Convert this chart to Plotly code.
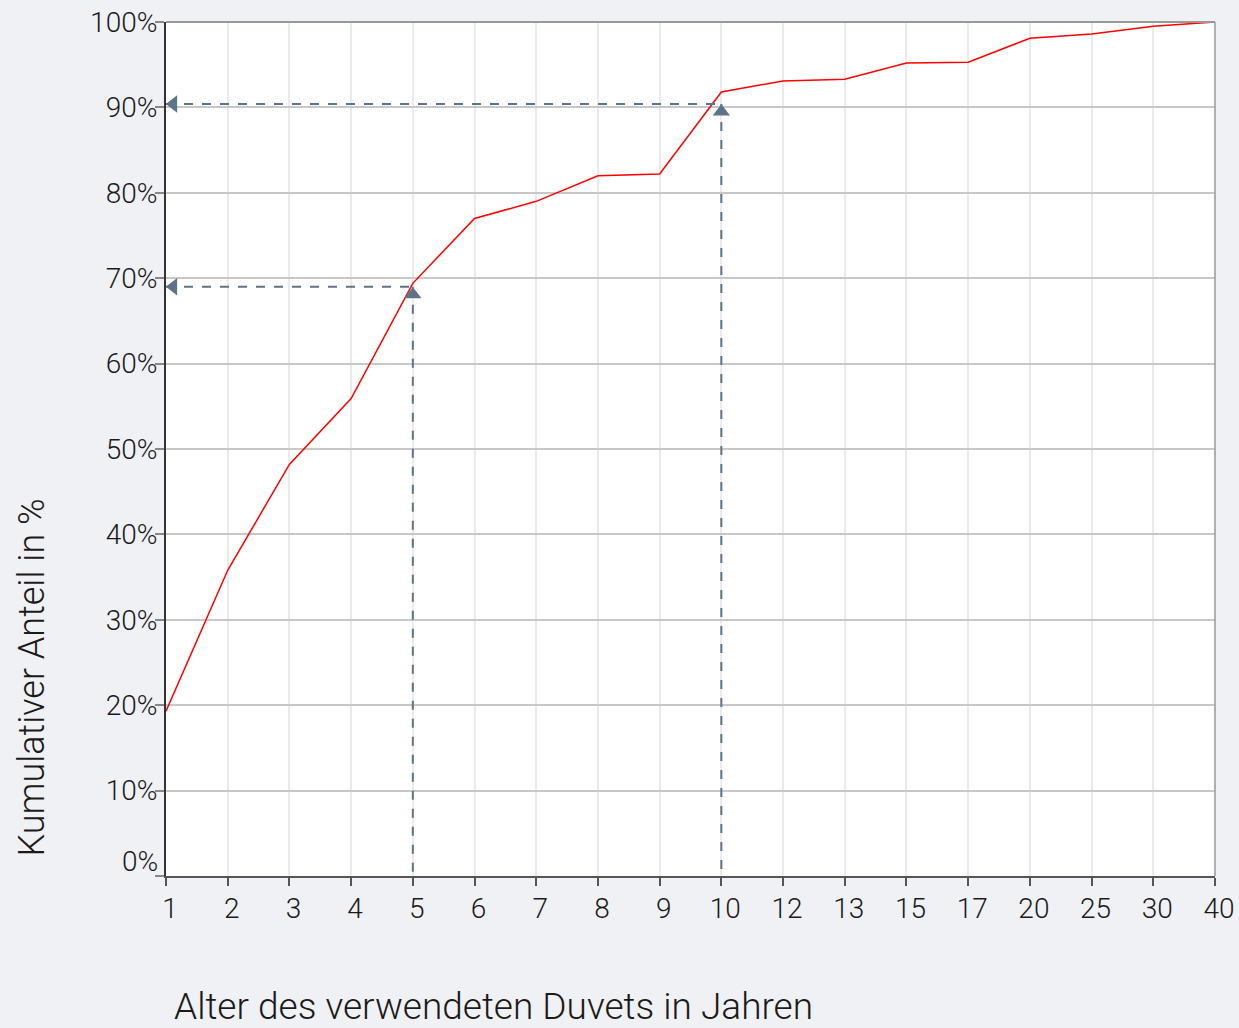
import plotly.graph_objects as go

# Data
age_labels = ["1", "2", "3", "4", "5", "6", "7", "8", "9", "10", "12", "13", "15", "17", "20", "25", "30", "40"]
cum_share = [19.3, 35.8, 48.2, 55.9, 69.4, 77.0, 79.0, 82.0, 82.2, 91.8, 93.1, 93.3, 95.2, 95.3, 98.1, 98.6, 99.5, 100.0]
y_ticks = [0, 10, 20, 30, 40, 50, 60, 70, 80, 90, 100]
y_ticklabels = ["", "10%", "20%", "30%", "40%", "50%", "60%", "70%", "80%", "90%", "100%"]
marker_ages = ["5", "10"]
marker_levels = [69.0, 90.4]

FONT = "Roboto, sans-serif"
TXT = "#1a1a1a"
DASH_COLOR = "#5d7386"

xs = list(range(len(age_labels)))

fig = go.Figure()
fig.add_trace(go.Scatter(x=xs, y=cum_share, mode="lines",
                         line=dict(color="#ff0000", width=1.5),
                         cliponaxis=False, showlegend=False, hoverinfo="skip"))

for age, lvl in zip(marker_ages, marker_levels):
    xi = age_labels.index(age)
    fig.add_shape(type="line", x0=0, x1=xi, y0=lvl, y1=lvl, xref="x", yref="y",
                  line=dict(color=DASH_COLOR, width=2, dash="dash"))
    fig.add_shape(type="line", x0=xi, x1=xi, y0=lvl, y1=0, xref="x", yref="y",
                  line=dict(color=DASH_COLOR, width=2, dash="dash"))
    fig.add_trace(go.Scatter(x=[0.12], y=[lvl], mode="markers",
                             marker=dict(symbol="triangle-left", size=15, color=DASH_COLOR),
                             cliponaxis=False, showlegend=False, hoverinfo="skip"))
    fig.add_trace(go.Scatter(x=[xi], y=[lvl - 0.9], mode="markers",
                             marker=dict(symbol="triangle-up", size=15, color=DASH_COLOR),
                             cliponaxis=False, showlegend=False, hoverinfo="skip"))

# top and right border
fig.add_shape(type="line", xref="paper", yref="paper", x0=0, x1=1, y0=1, y1=1,
              line=dict(color="#999999", width=2))
fig.add_shape(type="line", xref="paper", yref="paper", x0=1, x1=1, y0=0, y1=1,
              line=dict(color="#999999", width=1.5))

fig.add_annotation(text="0%", xref="paper", yref="y", x=-0.006, y=1.7,
                   xanchor="right", yanchor="middle", showarrow=False,
                   font=dict(family=FONT, size=28, color=TXT, weight=300))
fig.add_annotation(text="Kumulativer Anteil in %", xref="paper", yref="paper",
                   x=-0.128, y=0.232, textangle=-90, xanchor="center", yanchor="middle",
                   showarrow=False, font=dict(family=FONT, size=36, color=TXT, weight=300))
fig.add_annotation(text="Alter des verwendeten Duvets in Jahren", xref="paper", yref="paper",
                   x=0.006, y=-0.153, xanchor="left", yanchor="middle",
                   showarrow=False, font=dict(family=FONT, size=37, color=TXT, weight=300))

fig.update_layout(
    width=1239, height=1028,
    margin=dict(l=166, r=24, t=22, b=152, autoexpand=False),
    paper_bgcolor="#f0f1f5", plot_bgcolor="#ffffff",
    font=dict(family=FONT, size=28, color=TXT),
    xaxis=dict(range=[0, len(age_labels) - 1], tickmode="array", tickvals=xs, ticktext=age_labels,
               automargin=False, ticklabelshift=4, ticklabelstandoff=-2,
               showgrid=True, gridcolor="#ebebeb", gridwidth=1.5, zeroline=False,
               showline=True, linecolor="#555555", linewidth=2,
               ticks="outside", ticklen=8, tickcolor="#555555", tickwidth=2,
               tickfont=dict(family=FONT, size=28, color=TXT, weight=300)),
    yaxis=dict(range=[0, 100], tickmode="array", tickvals=y_ticks, ticktext=y_ticklabels,
               automargin=False, ticklabelstandoff=-8,
               showgrid=True, gridcolor="#c8c8c8", gridwidth=1.5, zeroline=False,
               showline=True, linecolor="#333333", linewidth=2,
               ticks="outside", ticklen=9, tickcolor="#888888", tickwidth=1.5,
               tickfont=dict(family=FONT, size=28, color=TXT, weight=300)),
)

fig.write_html("out.html", config={"displayModeBar": False},
               post_script="document.body.style.margin='0';document.body.style.padding='0';")
